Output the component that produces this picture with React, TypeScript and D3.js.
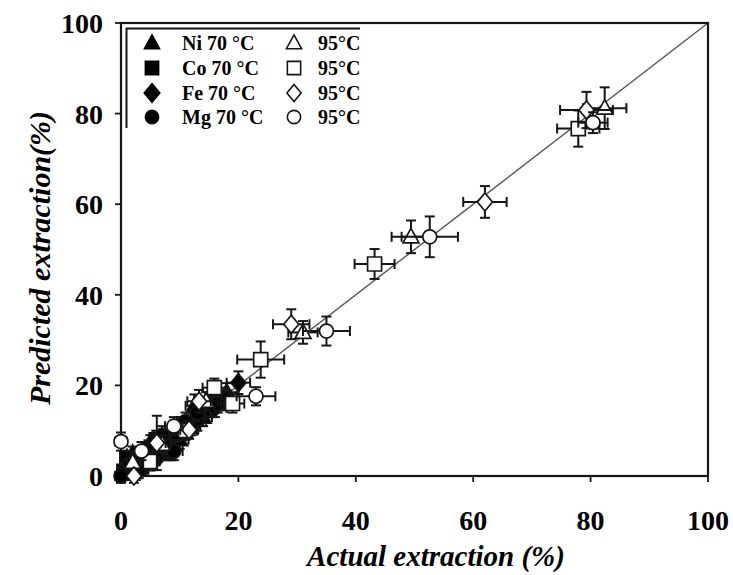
import React from "react";
import * as d3 from "d3";

// [actual, predicted, xErr, yErr]
const ni70: number[][] = [[1, 1.5, 1, 1.5], [4, 4, 1, 2], [8.5, 9, 1.5, 2], [12.5, 15.5, 1.5, 2.5], [17, 17, 2, 2], [3, 2, 1, 1.5], [10, 8, 1.5, 2], [6, 6, 1, 2], [14, 13, 1.5, 2], [2, 5, 1, 1.5], [18, 18.5, 2, 2]];
const ni95: number[][] = [[82.4, 81.2, 3.7, 4.6], [49.4, 52.8, 3.3, 3.6], [31, 31.7, 2.5, 2.5], [14.5, 16.5, 2, 2], [7, 7, 1.5, 2], [2, 3, 1, 2.5]];
const co70: number[][] = [[0.5, 1, 1, 1.5], [3.5, 2, 1, 1.5], [8, 5, 1.5, 1.5], [9.5, 9.5, 1.5, 2], [15.5, 17, 2, 2], [17.5, 16.5, 2, 2], [1, 4, 1, 1.5], [6, 8, 1, 2], [12, 11, 1.5, 2], [14, 14.5, 1.5, 2]];
const co95: number[][] = [[77.9, 76.7, 3.6, 4], [43.2, 46.8, 3.4, 3.3], [23.8, 25.7, 4, 4], [15.9, 19.5, 2, 2], [5, 3.2, 1.5, 2], [11, 10, 2, 2], [19, 16, 2, 2]];
const fe70: number[][] = [[0.5, 0.5, 1, 1], [2.5, 4, 1, 1.5], [8, 6, 1, 2], [13, 12, 1.5, 2], [20, 20.6, 2, 2.5], [16, 15, 2, 2], [1, 2, 1, 1.5], [5, 7, 1, 2], [10, 11, 1.5, 2], [18, 17, 2, 2]];
const fe95: number[][] = [[79.3, 80.8, 4.5, 4], [62, 60.5, 3.7, 3.5], [29, 33.5, 3.1, 3.3], [13.3, 16.5, 2, 2.5], [11.6, 10.2, 1.5, 2], [6.1, 7.3, 1.5, 6], [2.2, 0, 1, 1.5]];
const mg70: number[][] = [[0, 0, 1, 1.5], [1.5, 2.5, 1, 1.5], [4.5, 3.5, 1.5, 1.5], [9, 5.5, 1.5, 2], [11, 12, 1.5, 2], [16.5, 16, 2, 2], [3, 1, 1, 1.5], [6, 4, 1, 1.5], [13, 14, 1.5, 2], [7, 9, 1.5, 2]];
const mg95: number[][] = [[80.4, 78, 2.5, 2.3], [52.6, 52.8, 4.8, 4.5], [35, 32, 4, 3.2], [23, 17.6, 3.3, 2], [0, 7.6, 1, 2], [9, 11, 1.5, 2], [3.5, 5.5, 1, 2]];

const metals = ["Ni", "Co", "Fe", "Mg"];
const shapes = ["tri", "sq", "dia", "circ"];
const series70 = [ni70, co70, fe70, mg70];
const series95 = [ni95, co95, fe95, mg95];
const ticks = [0, 20, 40, 60, 80, 100];

const W = 733, H = 575;
const xS = d3.scaleLinear().domain([0, 100]).range([121, 708]);
const yS = d3.scaleLinear().domain([0, 100]).range([476, 23]);

function markerPath(kind: string, k: number): string {
  if (kind === "tri") return `M0,${-8.5 * k}L${8 * k},${6 * k}L${-8 * k},${6 * k}Z`;
  if (kind === "sq") return `M${-7 * k},${-7 * k}H${7 * k}V${7 * k}H${-7 * k}Z`;
  if (kind === "dia") return `M0,${-9 * k}L${7.5 * k},0L0,${9 * k}L${-7.5 * k},0Z`;
  const r = 7 * k;
  return `M${-r},0A${r},${r} 0 1,0 ${r},0A${r},${r} 0 1,0 ${-r},0Z`;
}

const INK = "#161616";
const FONT = "'Liberation Serif', 'Times New Roman', serif";

function Points({ data, kind, filled }: { data: number[][]; kind: string; filled: boolean }) {
  return (
    <g>
      {data.map((d, i) => {
        const cx = xS(d[0]), cy = yS(d[1]);
        const x0 = xS(d[0] - d[2]), x1 = xS(d[0] + d[2]);
        const y0 = yS(d[1] - d[3]), y1 = yS(d[1] + d[3]);
        const c = 5;
        return (
          <g key={i} stroke={INK} strokeWidth={2}>
            <line x1={x0} x2={x1} y1={cy} y2={cy} />
            <line x1={cx} x2={cx} y1={y0} y2={y1} />
            <line x1={x0} x2={x0} y1={cy - c} y2={cy + c} />
            <line x1={x1} x2={x1} y1={cy - c} y2={cy + c} />
            <line x1={cx - c} x2={cx + c} y1={y0} y2={y0} />
            <line x1={cx - c} x2={cx + c} y1={y1} y2={y1} />
            <path d={markerPath(kind, 1)} transform={`translate(${cx},${cy})`} fill={filled ? "#000" : "#fff"} strokeWidth={1.7} />
          </g>
        );
      })}
    </g>
  );
}

export default function App() {
  const legendRows = [43, 68, 93, 117];
  return (
    <svg width={W} height={H} style={{ position: "absolute", left: 0, top: 0, background: "#fff" }} fontFamily={FONT}>
      <rect x={0} y={0} width={W} height={H} fill="#fff" />
      {/* diagonal */}
      <line x1={xS(0)} y1={yS(0)} x2={xS(100)} y2={yS(100)} stroke="#555" strokeWidth={1.4} />
      {/* frame */}
      <rect x={xS(0)} y={yS(100)} width={xS(100) - xS(0)} height={yS(0) - yS(100)} fill="none" stroke={INK} strokeWidth={2.2} />
      {ticks.map((t) => (
        <g key={"t" + t}>
          <line x1={xS(0) - 6} x2={xS(0)} y1={yS(t)} y2={yS(t)} stroke={INK} strokeWidth={1.8} />
          <line x1={xS(t)} x2={xS(t)} y1={yS(0)} y2={yS(0) + 6} stroke={INK} strokeWidth={1.8} />
          <text x={103} y={yS(t) + 10} textAnchor="end" fontSize={28} fontWeight="bold">{t}</text>
          <text x={xS(t)} y={530} textAnchor="middle" fontSize={28} fontWeight="bold">{t}</text>
        </g>
      ))}
      {/* legend */}
      <line x1={126} x2={360} y1={28.5} y2={28.5} stroke={INK} strokeWidth={2} />
      <line x1={126.5} x2={126.5} y1={28} y2={128} stroke={INK} strokeWidth={2} />
      {metals.map((m, i) => (
        <g key={m}>
          <path d={markerPath(shapes[i], i === 2 ? 1.05 : 0.95)} transform={`translate(152,${legendRows[i]})`} fill="#000" stroke="#000" strokeWidth={1.5} />
          <text x={182} y={legendRows[i] + 7} fontSize={20} fontWeight="bold">{`${m} 70 °C`}</text>
          <path d={markerPath(shapes[i], 0.95)} transform={`translate(294,${legendRows[i]})`} fill="#fff" stroke={INK} strokeWidth={1.6} />
          <text x={318} y={legendRows[i] + 7} fontSize={20} fontWeight="bold">95°C</text>
        </g>
      ))}
      {series70.map((s, i) => <Points key={"a" + i} data={s} kind={shapes[i]} filled={true} />)}
      {series95.map((s, i) => <Points key={"b" + i} data={s} kind={shapes[i]} filled={false} />)}
      {/* axis titles */}
      <text x={436} y={566} textAnchor="middle" fontSize={29} fontWeight="bold" fontStyle="italic">Actual extraction (%)</text>
      <text transform={`translate(50,258) rotate(-90)`} textAnchor="middle" fontSize={30} fontWeight="bold" fontStyle="italic">Predicted extraction(%)</text>
    </svg>
  );
}
